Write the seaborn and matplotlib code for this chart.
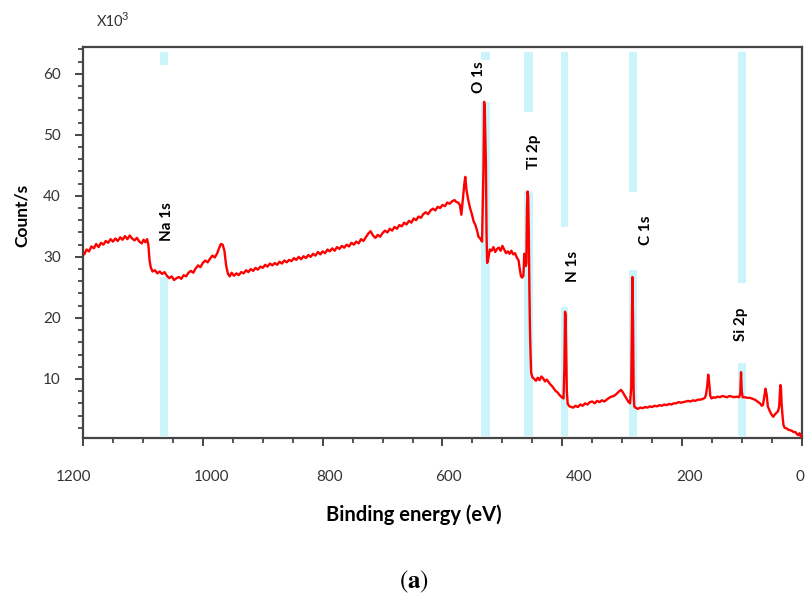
import numpy as np
import pandas as pd
import matplotlib
matplotlib.use("Agg")
import matplotlib.pyplot as plt
from matplotlib.ticker import MultipleLocator
from matplotlib.transforms import ScaledTranslation
import seaborn as sns

# ---------------- data ----------------
binding_energy = [
    1198, 1194, 1190, 1186, 1182, 1178, 1174, 1170, 1166, 1162, 1158, 1154, 1150, 1146, 1142, 1138,
    1134, 1130, 1126, 1122, 1118, 1114, 1110, 1106, 1102, 1099, 1096, 1093, 1091, 1089, 1087, 1084,
    1080, 1076, 1072, 1068, 1064, 1060, 1056, 1052, 1048, 1044, 1040, 1036, 1032, 1028, 1024, 1020,
    1016, 1012, 1008, 1004, 1000, 996, 992, 988, 984, 980, 976, 973, 970, 967, 964, 961, 958, 955,
    952, 948, 944, 940, 936, 932, 928, 924, 920, 916, 912, 908, 904, 900, 896, 892, 888, 884, 880,
    876, 872, 868, 864, 860, 856, 852, 848, 844, 840, 836, 832, 828, 824, 820, 816, 812, 808, 804,
    800, 796, 792, 788, 784, 780, 776, 772, 768, 764, 760, 756, 752, 748, 744, 740, 736, 732, 728,
    724, 720, 716, 712, 708, 704, 700, 696, 692, 688, 684, 680, 676, 672, 668, 664, 660, 656, 652,
    648, 644, 640, 636, 632, 628, 624, 620, 616, 612, 608, 604, 600, 596, 592, 588, 584, 580, 577,
    574, 571, 568.5, 566, 563.5, 562, 560, 557, 554, 551, 548, 545, 542, 540, 537, 534,
    531.5, 530.5, 529.5, 528.5, 527.5, 526.5, 525.5, 524, 521, 518, 515, 512, 509, 506, 503, 500,
    497, 494, 491, 488, 485, 482, 479, 476, 473, 471, 469, 467, 465, 463.5, 462, 461, 460, 459, 458,
    457, 456, 455.5, 455, 454, 453, 452, 450, 447, 444, 441, 438, 435, 432, 429, 426, 423, 420, 417,
    414, 411, 408, 405, 402, 400, 398, 396.5, 395.5, 394.5, 393.5, 392.5, 391, 388, 385, 382, 378,
    374, 370, 366, 362, 358, 354, 350, 346, 342, 338, 334, 330, 326, 322, 318, 314, 310, 306, 302,
    299, 296, 293, 290, 287, 285, 284, 283, 282, 281, 280, 278, 274, 270, 266, 262, 258, 254, 250,
    246, 242, 238, 234, 230, 226, 222, 218, 214, 210, 206, 202, 198, 194, 190, 186, 182, 178, 174,
    170, 166, 162, 160, 158, 156.5, 155, 153, 151, 148, 145, 141, 137, 133, 129, 125, 121, 117, 113,
    109, 105, 103, 101.7, 100.5, 99, 95, 91, 87, 84, 81, 77, 73, 70, 67, 65, 63, 61, 59, 57, 54, 51,
    48, 45, 42, 40, 38, 37, 36, 35, 34, 32.5, 31, 29, 26, 23, 20, 17, 14, 11, 8, 6, 4, 2, 0,
]
counts_k = [
    30.4, 31.2, 30.9, 31.7, 31.4, 32.1, 31.6, 32.3, 32.0, 32.6, 32.3, 32.9, 32.5, 33.0, 32.6, 33.2,
    32.8, 33.4, 32.9, 33.5, 33.0, 32.7, 33.1, 32.5, 32.2, 32.8, 32.4, 32.9, 32.0, 29.5, 28.3, 27.6,
    27.8, 27.3, 27.6, 27.2, 27.5, 26.9, 26.5, 26.8, 26.2, 26.5, 26.7, 26.4, 27.0, 26.8, 27.4, 27.7,
    27.4, 28.1, 28.6, 28.3, 29.0, 29.4, 29.1, 29.7, 30.2, 29.9, 30.6, 31.4, 32.1, 32.0, 31.0, 28.5, 27.2, 26.8,
    27.4, 26.9, 27.3, 27.0, 27.5, 27.3, 27.8, 27.5, 28.0, 27.7, 28.2, 27.9, 28.4, 28.2, 28.7, 28.4, 28.9, 28.6, 29.0,
    28.7, 29.2, 28.9, 29.4, 29.1, 29.5, 29.3, 29.8, 29.5, 30.0, 29.6, 30.1, 29.8, 30.3, 30.0, 30.5, 30.2, 30.8, 30.4,
    30.9, 30.6, 31.2, 30.9, 31.4, 31.0, 31.6, 31.3, 31.8, 31.5, 32.0, 31.7, 32.3, 32.0, 32.5, 32.2, 32.9, 32.6, 33.2,
    33.8, 34.2, 33.5, 33.1, 33.6, 33.3, 33.9, 34.3, 34.0, 34.6, 34.3, 34.9, 34.6, 35.2, 35.0, 35.6, 35.3, 35.9, 35.6,
    36.3, 36.0, 36.6, 36.4, 37.0, 37.3, 37.0, 37.6, 37.9, 37.6, 38.2, 38.0, 38.5, 38.3, 38.9, 38.7, 39.1, 39.3, 39.0,
    38.9, 38.5, 36.9, 39.5, 42.0, 43.1, 41.0, 39.3, 38.0, 37.0, 35.8, 35.2, 34.2, 33.3, 33.0, 32.5,
    45.0, 55.4, 54.5, 50.0, 45.0, 34.0, 29.0, 29.5, 31.2, 31.0, 31.6, 30.8, 31.3, 31.5, 31.0, 31.8,
    31.2, 30.6, 30.9, 30.5, 31.0, 30.4, 30.6, 29.9, 29.4, 28.0, 26.8, 26.6, 26.9, 30.5, 29.5, 28.5, 29.0, 38.0, 40.7,
    40.0, 34.0, 30.0, 25.0, 18.0, 14.0, 11.0, 10.3, 10.0, 9.7, 10.2, 9.8, 10.4, 10.1, 9.6, 9.9, 9.5, 9.1, 8.8,
    8.4, 8.0, 7.8, 7.4, 7.1, 6.9, 6.8, 12.0, 21.0, 20.5, 14.0, 8.0, 5.9, 5.5, 5.4, 5.3, 5.6,
    5.4, 5.8, 5.6, 6.0, 5.8, 6.2, 6.3, 6.0, 6.4, 6.2, 6.5, 6.3, 6.6, 6.9, 7.1, 7.2, 7.5, 7.9, 8.2,
    7.8, 7.3, 6.8, 6.3, 6.0, 8.5, 18.0, 26.7, 20.0, 8.0, 5.5, 5.3, 5.1, 5.3, 5.2, 5.4, 5.3, 5.5, 5.4,
    5.6, 5.5, 5.7, 5.6, 5.8, 5.7, 5.9, 5.8, 6.0, 6.0, 6.2, 6.1, 6.2, 6.3, 6.4, 6.3, 6.5, 6.4, 6.6,
    6.6, 6.7, 6.9, 7.5, 9.0, 10.7, 9.5, 7.2, 6.8, 7.0, 6.9, 7.1, 7.0, 7.2, 7.1, 7.0, 7.2, 7.1, 7.0,
    7.1, 7.0, 7.6, 11.1, 8.0, 7.0, 7.0, 6.9, 6.9, 6.8, 6.7, 6.5, 6.2, 6.0, 5.6, 5.8, 7.0, 8.4, 7.5, 5.5, 4.8, 4.2,
    3.8, 4.2, 4.5, 4.7, 5.5, 7.5, 9.0, 8.5, 6.0, 4.0, 2.5, 2.0, 1.9, 1.7, 1.6, 1.5, 1.3, 1.3, 0.9, 0.8, 1.1, 0.6, 0.4,
]

peak_names = ["Na 1s", "O 1s", "Ti 2p", "N 1s", "C 1s", "Si 2p"]
peak_energy = [1065, 527.5, 456.5, 396, 282.5, 100]
label_energy = [1060, 539, 446.5, 383, 260, 101.5]
label_count = [35.7, 59.5, 47.2, 28.4, 34.4, 18.9]

x_ticks = [1200, 1000, 800, 600, 400, 200, 0]
y_ticks = [10, 20, 30, 40, 50, 60]

# ---------------- style ----------------
sns.set_style("white")
plt.rcParams["font.family"] = ["Lato", "DejaVu Sans"]
plt.rcParams["mathtext.fontset"] = "stix"

fig = plt.figure(figsize=(8.06, 6.01), dpi=100)
ax = fig.add_axes([0.103, 0.271, 0.892, 0.651])

band_color = "#cbf5fa"
band_width = [13, 15, 15, 12, 14, 12]
band_segments = [
    [(0.6, 26.7), (61.5, 63.6)],
    [(0.6, 55.4), (62.3, 63.6)],
    [(0.6, 40.7), (53.8, 63.6)],
    [(0.6, 21.8), (34.9, 63.6)],
    [(0.6, 27.9), (40.7, 63.6)],
    [(0.6, 12.6), (25.7, 63.6)],
]
for e, w, segs in zip(peak_energy, band_width, band_segments):
    for y0, y1 in segs:
        ax.fill_betweenx([y0, y1], e - w / 2, e + w / 2, color=band_color, lw=0, zorder=1)

df = pd.DataFrame({"energy": binding_energy, "counts": counts_k})
sns.lineplot(data=df, x="energy", y="counts", color="#ff0000", lw=1.7,
             estimator=None, errorbar=None, ax=ax, zorder=3)

for name, xe, yc in zip(peak_names, label_energy, label_count):
    ax.text(xe, yc, name, rotation=90, ha="center", va="center",
            fontsize=11, fontweight="bold", color="black", zorder=4)

ax.set_xlim(1200, 0)
ax.set_ylim(0.3, 64.4)
ax.set_xticks(x_ticks)
ax.set_xticklabels([str(t) for t in x_ticks])
ax.xaxis.set_minor_locator(MultipleLocator(50))
ax.set_yticks(y_ticks)
ax.set_yticklabels([str(t) for t in y_ticks])
ax.yaxis.set_minor_locator(MultipleLocator(2))

spine_c = "#454545"
for s in ax.spines.values():
    s.set_color(spine_c)
    s.set_linewidth(1.6)

ax.tick_params(axis="both", which="major", direction="out", length=6, width=1.4,
               color=spine_c, labelsize=11, labelcolor="#333333")
ax.tick_params(axis="both", which="minor", direction="out", length=3.5, width=1.3,
               color=spine_c)
ax.tick_params(axis="x", which="both", bottom=True, top=False)
ax.tick_params(axis="y", which="both", left=True, right=False)
ax.tick_params(axis="x", which="major", pad=17)
ax.tick_params(axis="y", which="major", pad=10)

# small per-label horizontal offsets as in the reference image
x_offsets_px = [-9, 9, 7, 6, 17, 7, -2]
fig.canvas.draw()
for lab, dx in zip(ax.get_xticklabels(), x_offsets_px):
    lab.set_transform(lab.get_transform() + ScaledTranslation(dx / 100, 0, fig.dpi_scale_trans))

ax.set_xlabel("Binding energy (eV)", fontsize=14.5, fontweight="bold", color="black")
ax.xaxis.set_label_coords(0.46, -0.17)
ax.set_ylabel("Count/s", fontsize=12.5, fontweight="bold", color="black")
ax.yaxis.set_label_coords(-0.074, 0.57)

fig.text(97 / 806, 1 - 22 / 601, "X10", fontsize=10.5, color="#333333", ha="left", va="center")
fig.text(122 / 806, 1 - 17 / 601, "3", fontsize=8, color="#333333", ha="left", va="center")
fig.text(414 / 806, 1 - 582 / 601, r"$(\mathbf{a})$", fontsize=18, color="black",
         ha="center", va="center")

fig.savefig("out.png", dpi=100)
